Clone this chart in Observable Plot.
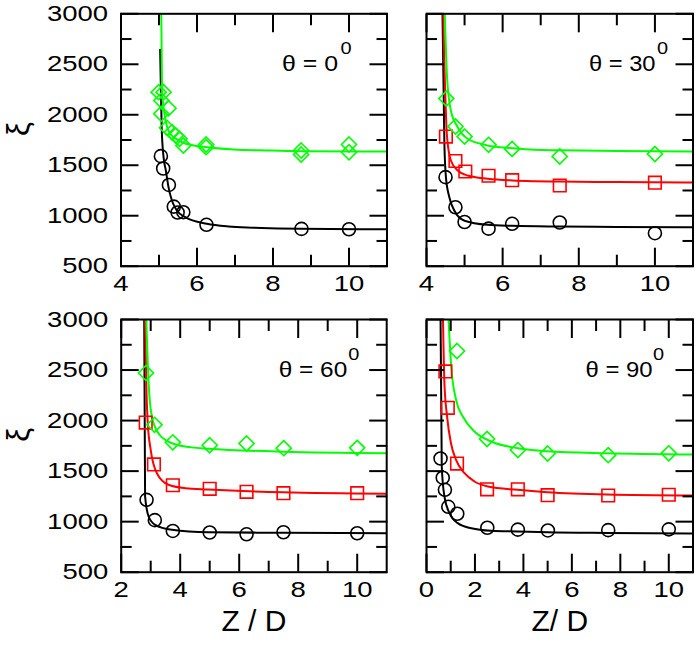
<!DOCTYPE html>
<html><head><meta charset="utf-8">
<script src="https://cdn.jsdelivr.net/npm/d3@7"></script>
<script src="https://cdn.jsdelivr.net/npm/@observablehq/plot@0.6"></script>
<style>
html,body{margin:0;padding:0;background:#fff;}
#chart{position:relative;width:696px;height:645px;overflow:hidden;background:#fff;}
#chart svg{position:absolute;}
</style></head><body><div id="chart"></div>
<script>
// ---------- tick values ----------
const yMajor = [500, 1000, 1500, 2000, 2500, 3000];
const yMinor = [750, 1250, 1750, 2250, 2750];
const xMajorTop = [4, 6, 8, 10];
const xMinorTop = [5, 7, 9];
const xMajor60 = [2, 4, 6, 8, 10];
const xMinor60 = [3, 5, 7, 9];
const xMajor90 = [0, 2, 4, 6, 8, 10];
const xMinor90 = [1, 3, 5, 7, 9];

// ---------- θ = 0° ----------
const t0CircX = [5.05, 5.11, 5.26, 5.39, 5.49, 5.64, 6.25, 8.75, 10.0];
const t0CircY = [1590, 1468, 1305, 1090, 1032, 1035, 910, 870, 866];
const t0DiamX = [4.99, 5.12, 5.06, 5.25, 5.06, 5.21, 5.34, 5.44, 5.54, 5.64, 6.24, 6.24, 8.74, 8.74, 10.0, 10.0];
const t0DiamY = [2224, 2224, 2141, 2065, 2010, 1871, 1827, 1795, 1762, 1696, 1705, 1679, 1646, 1606, 1705, 1629];
const t0FitBlackX = [5.03, 5.07, 5.12, 5.18, 5.25, 5.34, 5.47, 5.69, 6.26, 6.83, 7.5, 8.72, 10.3, 11];
const t0FitBlackY = [2643, 1877, 1580, 1448, 1283, 1151, 1052, 986, 920, 893, 882, 870, 866, 865];
const t0FitGreenX = [5.06, 5.08, 5.13, 5.22, 5.3, 5.4, 5.5, 5.61, 5.92, 6.27, 6.97, 7.85, 8.72, 10.3, 11];
const t0FitGreenY = [3000, 2240, 2042, 1870, 1810, 1775, 1750, 1728, 1695, 1679, 1656, 1646, 1639, 1636, 1635];

// ---------- θ = 30° ----------
const t30CircX = [4.5, 4.76, 5.0, 5.63, 6.25, 7.5, 10.0];
const t30CircY = [1382, 1084, 938, 872, 920, 933, 827];
const t30SqX = [4.51, 4.76, 5.02, 5.63, 6.25, 7.5, 10.0];
const t30SqY = [1784, 1542, 1438, 1396, 1352, 1299, 1327];
const t30DiamX = [4.52, 4.76, 5.0, 5.63, 6.25, 7.5, 10.0];
const t30DiamY = [2160, 1884, 1784, 1702, 1662, 1587, 1611];
const t30FitBlackX = [4.42, 4.47, 4.51, 4.6, 4.73, 5.0, 5.6, 6.25, 7.5, 9, 11];
const t30FitBlackY = [3000, 1712, 1382, 1183, 1052, 950, 910, 900, 893, 889, 886];
const t30FitRedX = [4.44, 4.48, 4.54, 4.64, 4.82, 5.08, 5.61, 6.26, 6.83, 7.5, 9, 11];
const t30FitRedY = [3000, 2372, 1778, 1547, 1448, 1398, 1366, 1349, 1342, 1338, 1333, 1329];
const t30FitGreenX = [4.48, 4.54, 4.64, 4.82, 5.08, 5.61, 6.26, 6.83, 7.5, 9, 11];
const t30FitGreenY = [3000, 2372, 2042, 1877, 1762, 1696, 1669, 1653, 1648, 1641, 1636];

// ---------- θ = 60° ----------
const t60CircX = [2.86, 3.14, 3.75, 5.0, 6.25, 7.5, 10.0];
const t60CircY = [1216, 1015, 908, 893, 875, 895, 885];
const t60SqX = [2.83, 3.11, 3.75, 5.0, 6.25, 7.5, 10.0];
const t60SqY = [1980, 1566, 1360, 1325, 1295, 1282, 1282];
const t60DiamX = [2.84, 3.13, 3.75, 5.0, 6.25, 7.51, 10.0];
const t60DiamY = [2471, 1958, 1785, 1756, 1773, 1727, 1730];
const t60FitBlackX = [2.78, 2.81, 2.93, 3.15, 3.72, 4.96, 7.5, 11];
const t60FitBlackY = [3000, 1249, 1051, 969, 920, 896, 890, 886];
const t60FitRedX = [2.81, 2.85, 2.9, 3.0, 3.21, 3.6, 4.17, 4.96, 7.5, 11];
const t60FitRedY = [3000, 2370, 1974, 1711, 1479, 1365, 1331, 1318, 1290, 1276];
const t60FitGreenX = [2.85, 2.93, 3.04, 3.26, 3.72, 4.39, 4.96, 7.5, 11];
const t60FitGreenY = [3000, 2370, 2040, 1875, 1776, 1735, 1722, 1692, 1678];

// ---------- θ = 90° ----------
const t90CircX = [0.58, 0.67, 0.76, 0.9, 1.27, 2.51, 3.77, 5.01, 7.5, 10.0];
const t90CircY = [1625, 1435, 1315, 1147, 1078, 940, 921, 913, 916, 924];
const t90SqX = [0.78, 0.88, 1.26, 2.5, 3.77, 5.0, 7.5, 10.0];
const t90SqY = [2486, 2126, 1575, 1320, 1320, 1262, 1259, 1266];
const t90DiamX = [1.26, 2.5, 3.77, 5.0, 7.5, 10.0];
const t90DiamY = [2688, 1818, 1708, 1674, 1658, 1676];
const t90FitBlackX = [0.58, 0.63, 0.74, 0.95, 1.29, 1.85, 2.67, 3.77, 5.0, 7.5, 11];
const t90FitBlackY = [3000, 1546, 1249, 1084, 985, 935, 910, 903, 895, 888, 882];
const t90FitRedX = [0.68, 0.74, 0.85, 1.01, 1.22, 1.57, 1.98, 2.53, 3.77, 4.98, 7.46, 11];
const t90FitRedY = [3000, 2370, 2040, 1776, 1612, 1479, 1397, 1348, 1315, 1292, 1269, 1259];
const t90FitGreenX = [0.91, 1.02, 1.22, 1.5, 1.98, 2.67, 3.77, 4.98, 7.46, 11];
const t90FitGreenY = [3000, 2535, 2206, 2040, 1892, 1793, 1727, 1697, 1677, 1664];

// panel labels
const thetaLabels = ["θ = 0", "θ = 30", "θ = 60", "θ = 90"];
const xTitles = ["Z / D", "Z/ D"];

const GREEN = "#00ff00", RED = "#ff0000", BLACK = "#000000";
const FONT = "'Liberation Sans', Arial, Helvetica, sans-serif";
const STRETCH = 1.22;
const thetaWidth = {"θ = 0": 56, "θ = 30": 66.5, "θ = 60": 68.5, "θ = 90": 67};

const zip = (X, Y) => X.map((x, i) => ({x, y: Y[i]}));

function panel(cfg) {
  const marks = [];
  for (const s of cfg.fits) {
    marks.push(Plot.line(zip(s.x, s.y), {x: "x", y: "y", stroke: s.color, strokeWidth: 2, curve: "monotone-x", clip: true}));
  }
  for (const s of cfg.points) {
    marks.push(Plot.dot(zip(s.x, s.y), {x: "x", y: "y", symbol: s.symbol, r: s.r, stroke: s.color, strokeWidth: 1.6, fill: "none", clip: true}));
  }
  // ticks (inward, mirrored)
  for (const a of ["left", "right"]) {
    marks.push(Plot.axisY({anchor: a, ticks: yMajor, tickSize: -18, fill: "none", strokeWidth: 2}));
    marks.push(Plot.axisY({anchor: a, ticks: yMinor, tickSize: -11, fill: "none", strokeWidth: 2}));
  }
  for (const a of ["top", "bottom"]) {
    marks.push(Plot.axisX({anchor: a, ticks: cfg.xMajor, tickSize: -18, fill: "none", strokeWidth: 2}));
    marks.push(Plot.axisX({anchor: a, ticks: cfg.xMinor, tickSize: -11, fill: "none", strokeWidth: 2}));
  }
  marks.push(Plot.frame({stroke: BLACK, strokeWidth: 2}));
  // tick labels
  marks.push(Plot.axisX({anchor: "bottom", ticks: cfg.xMajor, tickSize: 0, tickPadding: 9, fontSize: 22.5, label: null, tickFormat: d => String(d)}));
  if (cfg.showY) {
    marks.push(Plot.axisY({anchor: "left", ticks: yMajor, tickSize: 0, tickPadding: 13, fontSize: 22.5, label: null, tickFormat: d => String(d)}));
    marks.push(Plot.text(["ξ"], {text: d => d, frameAnchor: "left", rotate: -90, dx: -102, dy: -4, fontSize: 31}));
  }
  if (cfg.xTitle) {
    marks.push(Plot.text([cfg.xTitle], {text: d => d, frameAnchor: "bottom", dy: 59, fontSize: 30}));
  }
  marks.push(Plot.text([cfg.theta], {text: d => d, frameAnchor: "top-right", textAnchor: "start", lineAnchor: "bottom", dx: cfg.thetaDx, dy: 57, fontSize: 22.5}));
  marks.push(Plot.text(["0"], {text: d => d, frameAnchor: "top-right", textAnchor: "start", lineAnchor: "bottom", dx: cfg.supDx, dy: 40, fontSize: 16}));

  const svg = Plot.plot({
    width: cfg.width, height: cfg.height,
    marginLeft: cfg.ml, marginRight: cfg.mr, marginTop: cfg.mt, marginBottom: cfg.mb,
    x: {domain: cfg.xDomain},
    y: {domain: [500, 3000]},
    style: {fontFamily: FONT, color: BLACK, background: "transparent", overflow: "visible"},
    marks
  });
  svg.style.left = cfg.left + "px";
  svg.style.top = cfg.top + "px";
  svg.style.maxWidth = "none";
  return svg;
}

const root = document.getElementById("chart");
root.append(panel({
  left: 0, top: 0, width: 400, height: 300, ml: 120.5, mr: 13.5, mt: 13.3, mb: 34.3,
  xDomain: [4, 11], xMajor: xMajorTop, xMinor: xMinorTop, showY: true, xTitle: null,
  theta: thetaLabels[0], thetaDx: -105, supDx: -46.5,
  fits: [{x: t0FitBlackX, y: t0FitBlackY, color: BLACK}, {x: t0FitGreenX, y: t0FitGreenY, color: GREEN}],
  points: [{x: t0CircX, y: t0CircY, symbol: "circle", r: 6.5, color: BLACK}, {x: t0DiamX, y: t0DiamY, symbol: "diamond2", r: 6.8, color: GREEN}]
}));
root.append(panel({
  left: 400, top: 0, width: 296, height: 300, ml: 26, mr: 3.5, mt: 13.3, mb: 34.3,
  xDomain: [4, 11], xMajor: xMajorTop, xMinor: xMinorTop, showY: false, xTitle: null,
  theta: thetaLabels[1], thetaDx: -104, supDx: -36,
  fits: [{x: t30FitBlackX, y: t30FitBlackY, color: BLACK}, {x: t30FitRedX, y: t30FitRedY, color: RED}, {x: t30FitGreenX, y: t30FitGreenY, color: GREEN}],
  points: [{x: t30CircX, y: t30CircY, symbol: "circle", r: 6.5, color: BLACK}, {x: t30SqX, y: t30SqY, symbol: "square", r: 7.1, color: RED}, {x: t30DiamX, y: t30DiamY, symbol: "diamond2", r: 6.8, color: GREEN}]
}));
root.append(panel({
  left: 0, top: 300, width: 400, height: 345, ml: 120.7, mr: 13.8, mt: 19, mb: 73.3,
  xDomain: [2, 11], xMajor: xMajor60, xMinor: xMinor60, showY: true, xTitle: xTitles[0],
  theta: thetaLabels[2], thetaDx: -108, supDx: -38.5,
  fits: [{x: t60FitBlackX, y: t60FitBlackY, color: BLACK}, {x: t60FitRedX, y: t60FitRedY, color: RED}, {x: t60FitGreenX, y: t60FitGreenY, color: GREEN}],
  points: [{x: t60CircX, y: t60CircY, symbol: "circle", r: 6.5, color: BLACK}, {x: t60SqX, y: t60SqY, symbol: "square", r: 7.1, color: RED}, {x: t60DiamX, y: t60DiamY, symbol: "diamond2", r: 6.8, color: GREEN}]
}));
root.append(panel({
  left: 400, top: 300, width: 296, height: 345, ml: 26, mr: 3.5, mt: 19, mb: 73.3,
  xDomain: [0, 11], xMajor: xMajor90, xMinor: xMinor90, showY: false, xTitle: xTitles[1],
  theta: thetaLabels[3], thetaDx: -107.5, supDx: -40,
  fits: [{x: t90FitBlackX, y: t90FitBlackY, color: BLACK}, {x: t90FitRedX, y: t90FitRedY, color: RED}, {x: t90FitGreenX, y: t90FitGreenY, color: GREEN}],
  points: [{x: t90CircX, y: t90CircY, symbol: "circle", r: 6.5, color: BLACK}, {x: t90SqX, y: t90SqY, symbol: "square", r: 7.1, color: RED}, {x: t90DiamX, y: t90DiamY, symbol: "diamond2", r: 6.8, color: GREEN}]
}));

// widen glyphs like the original figure's font
function widen(t, len) {
  t.setAttribute("textLength", len.toFixed(1));
  t.setAttribute("lengthAdjust", "spacingAndGlyphs");
}
document.querySelectorAll('#chart g[aria-label$="tick label"] text').forEach(t => {
  const L = t.getComputedTextLength();
  if (L > 0) widen(t, L * STRETCH);
});
document.querySelectorAll('#chart g[aria-label="text"] text').forEach(t => {
  const s = t.textContent;
  if (thetaWidth[s]) widen(t, thetaWidth[s]);
  else if (s === "0") widen(t, t.getComputedTextLength() * 1.25);
});
</script></body></html>
